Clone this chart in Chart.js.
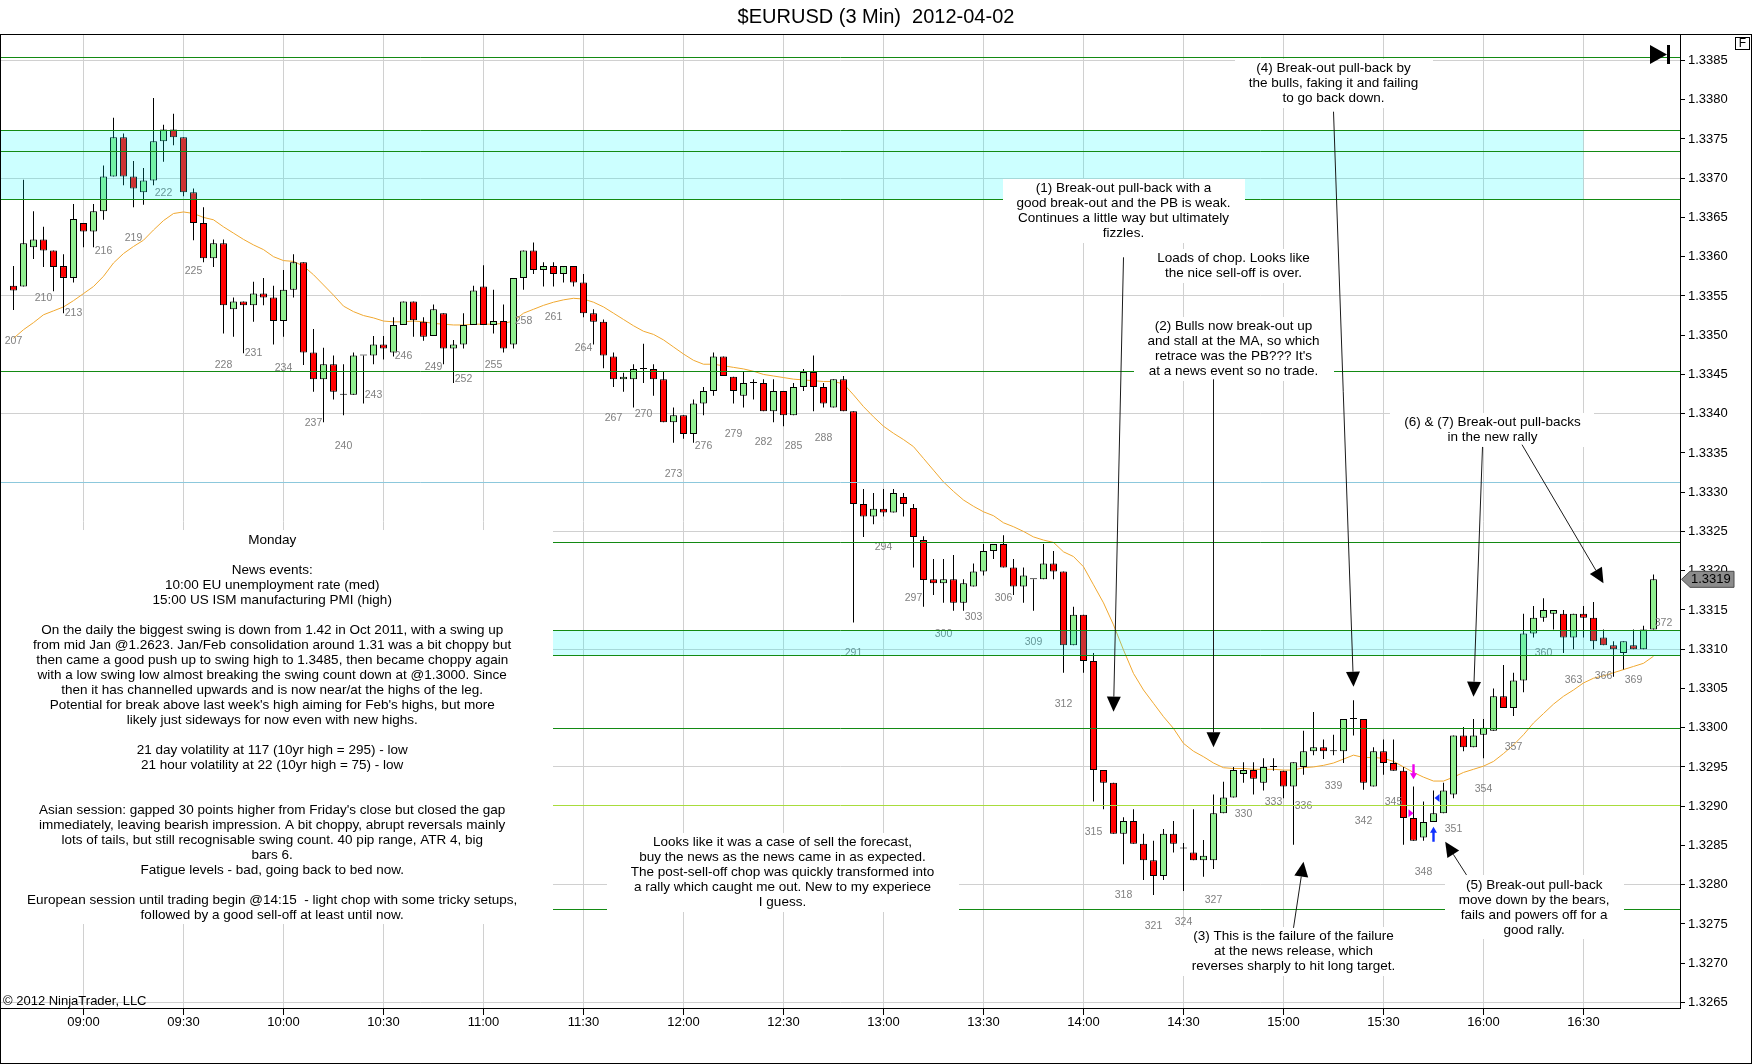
<!DOCTYPE html>
<html>
<head>
<meta charset="utf-8">
<title>$EURUSD (3 Min) 2012-04-02</title>
<script src="https://cdn.jsdelivr.net/npm/chart.js@4.4.1/dist/chart.umd.min.js"></script>
<style>
  html, body { margin: 0; padding: 0; background: #fff; }
  canvas { display: block; }
</style>
</head>
<body>
<canvas id="c" width="1752" height="1064"></canvas>
<script>
// ---- data (bars 207..371, 3 min each) ----
const firstBar = 207;
const open = [
  1.33563, 1.33562, 1.33612, 1.33622, 1.33608, 1.33588, 1.33573, 1.33643, 1.33632, 1.33658,
  1.33702, 1.33752, 1.33702, 1.33682, 1.33697, 1.33747, 1.33762, 1.33752, 1.33682, 1.33643,
  1.33598, 1.33617, 1.33533, 1.33543, 1.33538, 1.33553, 1.33548, 1.33518, 1.33558, 1.33593,
  1.33478, 1.33444, 1.33463, 1.33424, 1.33424, 1.33474, 1.33474, 1.33488, 1.33478, 1.33513,
  1.33543, 1.33517, 1.33499, 1.33528, 1.33483, 1.33488, 1.33513, 1.33562, 1.33513, 1.33518,
  1.33488, 1.33573, 1.33608, 1.33583, 1.33588, 1.33578, 1.33588, 1.33567, 1.33528, 1.33517,
  1.33473, 1.33444, 1.33444, 1.33457, 1.33457, 1.33444, 1.33389, 1.33398, 1.33374, 1.33413,
  1.33429, 1.33473, 1.33447, 1.33423, 1.33439, 1.33439, 1.33403, 1.33429, 1.33398, 1.33434,
  1.33453, 1.33434, 1.33408, 1.33444, 1.33403, 1.33285, 1.33269, 1.33279, 1.33274, 1.33294,
  1.33280, 1.33239, 1.33189, 1.33184, 1.33189, 1.33159, 1.33180, 1.33199, 1.33225, 1.33234,
  1.33204, 1.33180, 1.33189, 1.33189, 1.33209, 1.33199, 1.33105, 1.33144, 1.33085, 1.32946,
  1.32930, 1.32865, 1.32881, 1.32852, 1.32831, 1.32811, 1.32865, 1.32846, 1.32841, 1.32831,
  1.32831, 1.32891, 1.32911, 1.32941, 1.32946, 1.32930, 1.32950, 1.32945, 1.32925, 1.32950,
  1.32970, 1.32975, 1.32970, 1.32970, 1.33011, 1.33011, 1.32925, 1.32970, 1.32955, 1.32945,
  1.32885, 1.32860, 1.32880, 1.32891, 1.32915, 1.32990, 1.32975, 1.32991, 1.32996, 1.33040,
  1.33025, 1.33060, 1.33120, 1.33140, 1.33145, 1.33145, 1.33115, 1.33145, 1.33140, 1.33115,
  1.33105, 1.33095, 1.33105, 1.33100, 1.33125
];
const high = [
  1.33588, 1.33698, 1.33658, 1.33638, 1.33608, 1.33603, 1.33667, 1.33643, 1.33667, 1.33716,
  1.33777, 1.33757, 1.33722, 1.33713, 1.33802, 1.33768, 1.33782, 1.33752, 1.33687, 1.33663,
  1.33622, 1.33622, 1.33548, 1.33543, 1.33568, 1.33573, 1.33563, 1.33583, 1.33603, 1.33593,
  1.33508, 1.33484, 1.33474, 1.33463, 1.33478, 1.33474, 1.33499, 1.33499, 1.33523, 1.33543,
  1.33543, 1.33523, 1.33539, 1.33528, 1.33494, 1.33528, 1.33563, 1.33589, 1.33558, 1.33539,
  1.33573, 1.33608, 1.33618, 1.33593, 1.33593, 1.33588, 1.33588, 1.33578, 1.33533, 1.33520,
  1.33478, 1.33452, 1.33463, 1.33489, 1.33463, 1.33453, 1.33408, 1.33398, 1.33418, 1.33434,
  1.33478, 1.33473, 1.33447, 1.33453, 1.33444, 1.33444, 1.33444, 1.33429, 1.33439, 1.33457,
  1.33474, 1.33439, 1.33444, 1.33448, 1.33403, 1.33304, 1.33299, 1.33304, 1.33304, 1.33299,
  1.33285, 1.33244, 1.33215, 1.33215, 1.33220, 1.33189, 1.33209, 1.33234, 1.33234, 1.33245,
  1.33215, 1.33204, 1.33189, 1.33234, 1.33225, 1.33199, 1.33154, 1.33144, 1.33095, 1.32946,
  1.32930, 1.32886, 1.32896, 1.32865, 1.32856, 1.32871, 1.32881, 1.32853, 1.32896, 1.32857,
  1.32915, 1.32931, 1.32950, 1.32956, 1.32956, 1.32961, 1.32961, 1.32945, 1.32956, 1.32996,
  1.33020, 1.32985, 1.32991, 1.33011, 1.33035, 1.33011, 1.32975, 1.32985, 1.32985, 1.32950,
  1.32925, 1.32906, 1.32920, 1.32930, 1.32990, 1.33001, 1.33011, 1.33011, 1.33050, 1.33080,
  1.33070, 1.33145, 1.33155, 1.33165, 1.33150, 1.33150, 1.33145, 1.33155, 1.33160, 1.33125,
  1.33110, 1.33110, 1.33125, 1.33130, 1.33195
];
const low = [
  1.33532, 1.33562, 1.33597, 1.33587, 1.33556, 1.33528, 1.33567, 1.33612, 1.33612, 1.33647,
  1.33702, 1.33691, 1.33663, 1.33666, 1.33691, 1.33721, 1.33742, 1.33677, 1.33621, 1.33593,
  1.33587, 1.33502, 1.33498, 1.33477, 1.33517, 1.33538, 1.33488, 1.33498, 1.33548, 1.33462,
  1.33428, 1.33389, 1.33418, 1.33398, 1.33424, 1.33413, 1.33463, 1.33469, 1.33473, 1.33513,
  1.33498, 1.33493, 1.33499, 1.33463, 1.33439, 1.33483, 1.33513, 1.33513, 1.33502, 1.33478,
  1.33483, 1.33558, 1.33578, 1.33562, 1.33562, 1.33567, 1.33562, 1.33523, 1.33488, 1.33458,
  1.33434, 1.33428, 1.33408, 1.33439, 1.33423, 1.33389, 1.33363, 1.33368, 1.33363, 1.33398,
  1.33423, 1.33448, 1.33413, 1.33408, 1.33418, 1.33403, 1.33389, 1.33384, 1.33398, 1.33429,
  1.33403, 1.33408, 1.33408, 1.33403, 1.33134, 1.33243, 1.33259, 1.33269, 1.33274, 1.33269,
  1.33204, 1.33154, 1.33169, 1.33159, 1.33149, 1.33149, 1.33180, 1.33194, 1.33215, 1.33204,
  1.33169, 1.33159, 1.33149, 1.33189, 1.33189, 1.33070, 1.33105, 1.33070, 1.32906, 1.32896,
  1.32865, 1.32826, 1.32852, 1.32806, 1.32787, 1.32806, 1.32841, 1.32792, 1.32831, 1.32810,
  1.32820, 1.32891, 1.32911, 1.32930, 1.32915, 1.32920, 1.32945, 1.32910, 1.32851, 1.32940,
  1.32965, 1.32960, 1.32965, 1.32955, 1.32990, 1.32921, 1.32925, 1.32940, 1.32945, 1.32851,
  1.32856, 1.32856, 1.32880, 1.32891, 1.32910, 1.32970, 1.32975, 1.32961, 1.32996, 1.33025,
  1.33015, 1.33045, 1.33115, 1.33135, 1.33125, 1.33095, 1.33100, 1.33115, 1.33100, 1.33105,
  1.33065, 1.33074, 1.33100, 1.33100, 1.33125
];
const close = [
  1.33557, 1.33617, 1.33622, 1.33608, 1.33587, 1.33573, 1.33648, 1.33632, 1.33658, 1.33702,
  1.33752, 1.33702, 1.33687, 1.33697, 1.33747, 1.33762, 1.33752, 1.33682, 1.33643, 1.33598,
  1.33617, 1.33538, 1.33543, 1.33538, 1.33553, 1.33548, 1.33518, 1.33558, 1.33593, 1.33478,
  1.33444, 1.33463, 1.33428, 1.33424, 1.33474, 1.33474, 1.33488, 1.33483, 1.33513, 1.33543,
  1.33519, 1.33498, 1.33533, 1.33483, 1.33488, 1.33513, 1.33557, 1.33513, 1.33518, 1.33483,
  1.33573, 1.33608, 1.33583, 1.33588, 1.33578, 1.33588, 1.33567, 1.33528, 1.33517, 1.33474,
  1.33444, 1.33447, 1.33457, 1.33457, 1.33444, 1.33389, 1.33398, 1.33374, 1.33413, 1.33429,
  1.33473, 1.33448, 1.33429, 1.33439, 1.33439, 1.33403, 1.33429, 1.33398, 1.33434, 1.33453,
  1.33434, 1.33413, 1.33444, 1.33403, 1.33285, 1.33269, 1.33279, 1.33274, 1.33299, 1.33285,
  1.33243, 1.33188, 1.33184, 1.33189, 1.33159, 1.33184, 1.33199, 1.33225, 1.33234, 1.33204,
  1.33180, 1.33194, 1.33189, 1.33209, 1.33199, 1.33105, 1.33144, 1.33085, 1.32946, 1.32930,
  1.32865, 1.32881, 1.32852, 1.32831, 1.32811, 1.32865, 1.32852, 1.32846, 1.32831, 1.32837,
  1.32891, 1.32911, 1.32946, 1.32946, 1.32935, 1.32950, 1.32950, 1.32925, 1.32956, 1.32970,
  1.32975, 1.32970, 1.32970, 1.33011, 1.33011, 1.32930, 1.32970, 1.32955, 1.32945, 1.32885,
  1.32856, 1.32880, 1.32891, 1.32920, 1.32990, 1.32975, 1.32990, 1.33000, 1.33040, 1.33025,
  1.33060, 1.33120, 1.33140, 1.33150, 1.33150, 1.33115, 1.33145, 1.33140, 1.33110, 1.33105,
  1.33100, 1.33110, 1.33100, 1.33125, 1.33189
];
// moving average (orange line), read per bar
const movAvg = [
  1.33496, 1.33507, 1.33516, 1.33526, 1.33531, 1.33536, 1.33544, 1.33553, 1.33562, 1.33575,
  1.33592, 1.33604, 1.33613, 1.33621, 1.33634, 1.33646, 1.33655, 1.33657, 1.33655, 1.33650,
  1.33647, 1.33638, 1.33630, 1.33622, 1.33615, 1.33609, 1.33600, 1.33595, 1.33594, 1.33588,
  1.33577, 1.33564, 1.33551, 1.33537, 1.33530, 1.33525, 1.33522, 1.33518, 1.33517, 1.33517,
  1.33518, 1.33517, 1.33515, 1.33514, 1.33513, 1.33513, 1.33514, 1.33514, 1.33514, 1.33515,
  1.33518, 1.33528, 1.33533, 1.33538, 1.33542, 1.33545, 1.33547, 1.33546, 1.33542, 1.33536,
  1.33528, 1.33520, 1.33512, 1.33505, 1.33501, 1.33494, 1.33485, 1.33476, 1.33468, 1.33463,
  1.33463, 1.33461, 1.33459, 1.33457, 1.33454, 1.33450, 1.33448, 1.33446, 1.33444, 1.33443,
  1.33442, 1.33441, 1.33441, 1.33438, 1.33424, 1.33409, 1.33396, 1.33384, 1.33375, 1.33367,
  1.33358, 1.33343, 1.33328, 1.33313, 1.33301, 1.33290, 1.33282, 1.33275, 1.33270, 1.33261,
  1.33256, 1.33250, 1.33243, 1.33239, 1.33236, 1.33224, 1.33218, 1.33205, 1.33182, 1.33159,
  1.33131, 1.33099, 1.33069, 1.33048, 1.33031, 1.33014, 1.32999, 1.32980, 1.32970, 1.32963,
  1.32955, 1.32949, 1.32948, 1.32948, 1.32947, 1.32947, 1.32947, 1.32946, 1.32946, 1.32949,
  1.32950, 1.32952, 1.32955, 1.32960, 1.32965, 1.32962, 1.32962, 1.32961, 1.32957, 1.32950,
  1.32943, 1.32937, 1.32932, 1.32932, 1.32937, 1.32943, 1.32947, 1.32951, 1.32957, 1.32967,
  1.32978, 1.32991, 1.33006, 1.33018, 1.33030, 1.33040, 1.33048, 1.33057, 1.33063, 1.33066,
  1.33070, 1.33074, 1.33078, 1.33082, 1.33091
];

// bar-count labels under every third bar (372 = bar in progress)
const barLabels = [207, 210, 213, 216, 219, 222, 225, 228, 231, 234, 237, 240, 243, 246, 249, 252,
  255, 258, 261, 264, 267, 270, 273, 276, 279, 282, 285, 288, 291, 294, 297, 300, 303, 306, 309,
  312, 315, 318, 321, 324, 327, 330, 333, 336, 339, 342, 345, 348, 351, 354, 357, 360, 363, 366,
  369, 372];
const openBarLow = 1.33173;

// axes
const tickBars = [214, 224, 234, 244, 254, 264, 274, 284, 294, 304, 314, 324, 334, 344, 354, 364];
const timeLabels = ['09:00', '09:30', '10:00', '10:30', '11:00', '11:30', '12:00', '12:30',
  '13:00', '13:30', '14:00', '14:30', '15:00', '15:30', '16:00', '16:30'];
const priceTicks = [1.3265, 1.3270, 1.3275, 1.3280, 1.3285, 1.3290, 1.3295, 1.3300, 1.3305,
  1.3310, 1.3315, 1.3320, 1.3325, 1.3330, 1.3335, 1.3340, 1.3345, 1.3350, 1.3355, 1.3360,
  1.3365, 1.3370, 1.3375, 1.3380, 1.3385];

// drawn levels and zones
const levels = [
  { price: 1.33854, color: '#138a13' },
  { price: 1.33761, color: '#138a13' },
  { price: 1.33735, color: '#138a13' },
  { price: 1.33674, color: '#138a13' },
  { price: 1.33454, color: '#138a13' },
  { price: 1.33313, color: '#8cc8dc' },
  { price: 1.33237, color: '#138a13' },
  { price: 1.33125, color: '#138a13' },
  { price: 1.33092, color: '#138a13' },
  { price: 1.33000, color: '#138a13' },
  { price: 1.32902, color: '#a8dc3c' },
  { price: 1.32769, color: '#138a13' }
];
const zones = [
  { hi: 1.33761, lo: 1.33674, toBar: 364 },
  { hi: 1.33125, lo: 1.33092, toBar: null }
];

const notes = [
  { bar: 232.87, price: 1.332513, padX: 36, lines: [
    'Monday', '', 'News events:', '10:00 EU unemployment rate (med)', '15:00 US ISM manufacturing PMI (high)', '',
    'On the daily the biggest swing is down from 1.42 in Oct 2011, with a swing up',
    'from mid Jan @1.2623. Jan/Feb consolidation around 1.31 was a bit choppy but',
    'then came a good push up to swing high to 1.3485, then became choppy again',
    'with a low swing low almost breaking the swing count down at @1.3000. Since',
    'then it has channelled upwards and is now near/at the highs of the leg.',
    'Potential for break above last week\'s high aiming for Feb\'s highs, but more',
    'likely just sideways for now even with new highs.', '',
    '21 day volatility at 117 (10yr high = 295) - low',
    '21 hour volatility at 22 (10yr high = 75) - low', '', '',
    'Asian session: gapped 30 points higher from Friday\'s close but closed the gap',
    'immediately, leaving bearish impression. A bit choppy, abrupt reversals mainly',
    'lots of tails, but still recognisable swing count. 40 pip range, ATR 4, big',
    'bars 6.',
    'Fatigue levels - bad, going back to bed now.', '',
    'European session until trading begin @14:15  - light chop with some tricky setups,',
    'followed by a good sell-off at least until now.'] },
  { bar: 283.9, price: 1.328660, padX: 24, lines: [
    'Looks like it was a case of sell the forecast,',
    'buy the news as the news came in as expected.',
    'The post-sell-off chop was quickly transformed into',
    'a rally which caught me out. New to my experiece',
    'I guess.'] },
  { bar: 318.0, price: 1.336992, padX: 14, lines: [
    '(1) Break-out pull-back with a', 'good break-out and the PB is weak.',
    'Continues a little way but ultimately', 'fizzles.'] },
  { bar: 329.0, price: 1.336101, padX: 8, lines: [
    'Loads of chop. Looks like', 'the nice sell-off is over.'] },
  { bar: 329.0, price: 1.335229, padX: 14, lines: [
    '(2) Bulls now break-out up', 'and stall at the MA, so which',
    'retrace was the PB??? It\'s', 'at a news event so no trade.'] },
  { bar: 339.0, price: 1.338522, padX: 14, lines: [
    '(4) Break-out pull-back by', 'the bulls, faking it and failing', 'to go back down.'] },
  { bar: 354.9, price: 1.334011, padX: 14, lines: [
    '(6) & (7) Break-out pull-backs', 'in the new rally'] },
  { bar: 335.0, price: 1.327464, padX: 14, lines: [
    '(3) This is the failure of the failure', 'at the news release, which',
    'reverses sharply to hit long target.'] },
  { bar: 359.07, price: 1.328119, padX: 14, lines: [
    '(5) Break-out pull-back', 'move down by the bears,', 'fails and powers off for a', 'good rally.'] }
];
// arrows: [fromBar, fromPrice, toBar, toPrice]
const arrows = [
  [318.0, 1.335992, 317.0, 1.330204],
  [327.0, 1.334438, 327.0, 1.329750],
  [339.0, 1.337847, 341.0, 1.330522],
  [353.9, 1.333576, 353.0, 1.330395],
  [357.85, 1.333605, 366.0, 1.331839],
  [335.0, 1.327450, 336.0, 1.328293],
  [352.3, 1.328124, 350.17, 1.328548]
];
// trade markers
const markers = [
  { bar: 347, price: 1.329343, kind: 'down', color: '#ee00ee' },
  { bar: 347, price: 1.328910, kind: 'right', color: '#ee00ee' },
  { bar: 349, price: 1.328739, kind: 'up', color: '#1030ff' },
  { bar: 349.1, price: 1.329104, kind: 'left', color: '#1030ff' }
];

const chartTitle = '$EURUSD (3 Min)  2012-04-02';
const fam = '"Liberation Sans", Arial, sans-serif';

// ---- build datasets ----
const bodies = open.map((o, i) => ({ x: firstBar + i, y: [o, close[i]] }));
const bodyColors = open.map((o, i) => close[i] > o ? '#90ee90' : (close[i] < o ? '#ff0000' : '#000'));
const wicks = low.map((l, i) => ({ x: firstBar + i, y: [l, high[i]] }));
const maPts = movAvg.map((v, i) => ({ x: firstBar + i, y: v }));

function drawArrow(ctx, x1, y1, x2, y2) {
  const ang = Math.atan2(y2 - y1, x2 - x1);
  const L = 15, W = 7;
  const bx = x2 - L * Math.cos(ang), by = y2 - L * Math.sin(ang);
  ctx.beginPath(); ctx.moveTo(x1, y1); ctx.lineTo(bx, by); ctx.stroke();
  ctx.beginPath();
  ctx.moveTo(x2, y2);
  ctx.lineTo(bx + W * Math.sin(ang), by - W * Math.cos(ang));
  ctx.lineTo(bx - W * Math.sin(ang), by + W * Math.cos(ang));
  ctx.closePath(); ctx.fill();
}

const overlay = {
  id: 'overlay',
  afterDatasetsDraw(chart) {
    const { ctx, chartArea: a } = chart;
    const xs = chart.scales.x, ys = chart.scales.y;
    const px = v => xs.getPixelForValue(v);
    const py = v => ys.getPixelForValue(v);
    const snap = v => Math.round(v) + 0.5;
    ctx.save();
    ctx.beginPath();
    ctx.rect(a.left, a.top, a.right - a.left, a.bottom - a.top);
    ctx.clip();

    // bar numbers
    ctx.font = '10.5px ' + fam;
    ctx.fillStyle = '#808080';
    ctx.textAlign = 'center';
    ctx.textBaseline = 'middle';
    barLabels.forEach(n => {
      const i = n - firstBar;
      const lo = i < low.length ? low[i] : openBarLow;
      ctx.fillText(String(n), px(n), py(lo) + 31);
    });

    // zones (translucent, tint what is under)
    ctx.fillStyle = 'rgba(0,255,255,0.2)';
    zones.forEach(z => {
      const x2 = z.toBar == null ? a.right : px(z.toBar);
      const y1 = snap(py(z.hi)), y2 = snap(py(z.lo));
      ctx.fillRect(a.left, y1, x2 - a.left, y2 - y1);
    });

    // level lines
    ctx.lineWidth = 1;
    levels.forEach(l => {
      const y = snap(py(l.price));
      ctx.strokeStyle = l.color;
      ctx.beginPath(); ctx.moveTo(a.left, y); ctx.lineTo(a.right, y); ctx.stroke();
    });

    // text notes with white backing
    ctx.font = '13.5px ' + fam;
    notes.forEach(nt => {
      const w = Math.max(...nt.lines.map(t => ctx.measureText(t).width)) + 2 * nt.padX;
      const cx = px(nt.bar), top = py(nt.price);
      const h = nt.lines.length * 15 + 4;
      ctx.fillStyle = '#fff';
      ctx.fillRect(Math.round(cx - w / 2), Math.round(top), Math.round(w), h);
      ctx.fillStyle = '#000';
      nt.lines.forEach((t, k) => ctx.fillText(t, cx, top + 9.5 + 15 * k));
    });

    // arrows
    ctx.strokeStyle = '#1a1a1a';
    ctx.fillStyle = '#000';
    arrows.forEach(r => drawArrow(ctx, px(r[0]), py(r[1]), px(r[2]), py(r[3])));

    // trade markers
    markers.forEach(m => {
      const x = px(m.bar), y = py(m.price);
      ctx.fillStyle = m.color;
      ctx.beginPath();
      if (m.kind === 'down') {
        ctx.rect(x - 1.2, y - 15, 2.4, 9);
        ctx.moveTo(x - 3.5, y - 6); ctx.lineTo(x + 3.5, y - 6); ctx.lineTo(x, y);
      } else if (m.kind === 'up') {
        ctx.rect(x - 1.2, y + 6, 2.4, 9);
        ctx.moveTo(x - 3.5, y + 6); ctx.lineTo(x + 3.5, y + 6); ctx.lineTo(x, y);
      } else if (m.kind === 'right') {
        ctx.moveTo(x, y); ctx.lineTo(x - 5, y - 4); ctx.lineTo(x - 5, y + 4);
      } else {
        ctx.moveTo(x, y); ctx.lineTo(x + 5, y - 4); ctx.lineTo(x + 5, y + 4);
      }
      ctx.closePath();
      ctx.fill();
    });
    ctx.restore();
  },
  afterDraw(chart) {
    const { ctx, chartArea: a } = chart;
    const ys = chart.scales.y;
    ctx.save();
    // title
    ctx.fillStyle = '#000';
    ctx.font = '20px ' + fam;
    ctx.textAlign = 'center';
    ctx.textBaseline = 'middle';
    ctx.fillText(chartTitle, chart.width / 2, 17);

    // outer frame
    ctx.strokeStyle = '#000';
    ctx.lineWidth = 1;
    ctx.strokeRect(0.5, 34.5, chart.width - 1, chart.height - 35);

    // "F" box
    ctx.strokeRect(a.right + 55.5, a.top + 2.5, 14, 12);
    ctx.font = '12px ' + fam;
    ctx.fillText('F', a.right + 62.5, a.top + 9);

    // go-to-end icon
    ctx.beginPath();
    ctx.moveTo(a.right - 30, a.top + 10);
    ctx.lineTo(a.right - 13, a.top + 19.5);
    ctx.lineTo(a.right - 30, a.top + 29);
    ctx.closePath(); ctx.fill();
    ctx.fillRect(a.right - 13, a.top + 10, 3, 19);

    // last price marker
    const last = close[close.length - 1];
    const y = ys.getPixelForValue(last);
    ctx.beginPath();
    ctx.moveTo(a.right + 1.5, y);
    ctx.lineTo(a.right + 10, y - 8);
    ctx.lineTo(a.right + 54, y - 8);
    ctx.lineTo(a.right + 54, y + 8);
    ctx.lineTo(a.right + 10, y + 8);
    ctx.closePath();
    ctx.fillStyle = '#8c8c8c';
    ctx.fill();
    ctx.strokeStyle = '#4a4a4a';
    ctx.stroke();
    ctx.fillStyle = '#000';
    ctx.font = '13px ' + fam;
    ctx.textAlign = 'left';
    ctx.fillText(last.toFixed(4), a.right + 11, y + 0.5);

    // copyright
    ctx.font = '13px ' + fam;
    ctx.fillText('\u00a9 2012 NinjaTrader, LLC', 3, a.bottom - 7);
    ctx.restore();
  }
};

Chart.defaults.font.family = fam;

new Chart(document.getElementById('c'), {
  type: 'bar',
  data: {
    datasets: [
      {
        label: 'body', data: bodies, backgroundColor: bodyColors,
        borderColor: '#000', borderWidth: 1, borderSkipped: false,
        barThickness: 7, grouped: false, minBarLength: 1, inflateAmount: 0, order: 1
      },
      {
        label: 'wick', data: wicks, backgroundColor: '#000', borderWidth: 0,
        barThickness: 1, grouped: false, inflateAmount: 0, order: 2
      },
      {
        type: 'line', label: 'MA', data: maPts, borderColor: '#f0a830', borderWidth: 1,
        pointRadius: 0, fill: false, tension: 0, order: 3
      }
    ]
  },
  options: {
    responsive: false,
    animation: false,
    devicePixelRatio: 1,
    layout: { padding: { top: 35, left: 1, right: 0, bottom: 0 } },
    plugins: { legend: { display: false }, tooltip: { enabled: false }, title: { display: false } },
    scales: {
      x: {
        type: 'linear', min: 205.75, max: 373.65, offset: false,
        grid: { color: '#d0d0d0', tickColor: '#000', tickLength: 7, offset: false },
        border: { color: '#000', width: 1 },
        ticks: {
          color: '#000', font: { size: 13 }, padding: 0, autoSkip: false, maxRotation: 0,
          callback: v => timeLabels[tickBars.indexOf(v)]
        },
        afterBuildTicks: s => { s.ticks = tickBars.map(v => ({ value: v })); },
        afterFit: s => { s.height = 56; }
      },
      y: {
        type: 'linear', position: 'right', min: 1.326429, max: 1.338824,
        grid: {
          color: c => (Math.round(c.tick.value * 1e4) % 15 === 5) ? '#d0d0d0' : 'rgba(0,0,0,0)',
          tickColor: '#000', tickLength: 5
        },
        border: { color: '#000', width: 1 },
        ticks: { color: '#000', font: { size: 13 }, padding: 3, callback: v => v.toFixed(4) },
        afterBuildTicks: s => { s.ticks = priceTicks.map(v => ({ value: v })); },
        afterFit: s => { s.width = 72; }
      }
    }
  },
  plugins: [overlay]
});
</script>
</body>
</html>
